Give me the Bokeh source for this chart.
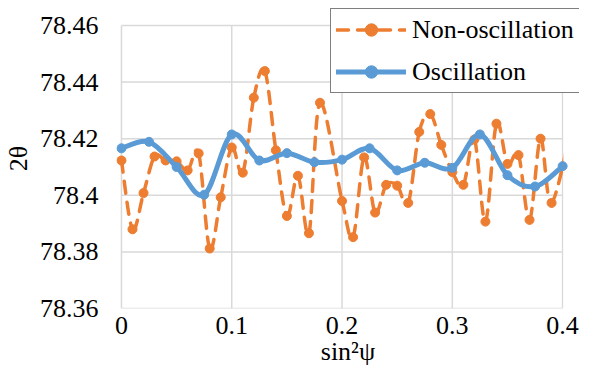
import numpy as np
from bokeh.plotting import figure
from bokeh.models import Range1d, FixedTicker, Legend, LegendItem
from bokeh.embed import file_html
from bokeh.resources import INLINE

# ---- data ----
non_x = [0.00, 0.01, 0.02, 0.03, 0.04, 0.05, 0.06, 0.07, 0.08, 0.09,
         0.10, 0.11, 0.12, 0.13, 0.14, 0.15, 0.16, 0.17, 0.18,
         0.20, 0.21, 0.22, 0.23, 0.24, 0.25, 0.26, 0.27, 0.28, 0.29,
         0.30, 0.31, 0.32, 0.33, 0.34, 0.35, 0.36, 0.37, 0.38, 0.39, 0.41]
non_y = [78.4123, 78.3880, 78.4008, 78.4137, 78.4123, 78.4120, 78.4088, 78.4148, 78.3812, 78.3993,
         78.4169, 78.4080, 78.4345, 78.4439, 78.4159, 78.3927, 78.4069, 78.3866, 78.4327,
         78.3980, 78.3852, 78.4134, 78.3939, 78.4037, 78.4034, 78.3973, 78.4224, 78.4287, 78.4178,
         78.4082, 78.4037, 78.4197, 78.3907, 78.4253, 78.4111, 78.4142, 78.3913, 78.4200, 78.3973, 78.4280]

osc_x = [0.0, 0.025, 0.05, 0.075, 0.1, 0.125, 0.15, 0.175, 0.2,
         0.225, 0.25, 0.275, 0.3, 0.325, 0.35, 0.375, 0.4]
osc_y = [78.4166, 78.4189, 78.4100, 78.4002, 78.4215, 78.4123, 78.4149, 78.4117, 78.4126,
         78.4166, 78.4088, 78.4115, 78.4097, 78.4215, 78.4071, 78.4031, 78.4103]

x_ticks = [0, 0.1, 0.2, 0.3, 0.4]
x_tick_labels = ["0", "0.1", "0.2", "0.3", "0.4"]
y_ticks = [78.36, 78.38, 78.4, 78.42, 78.44, 78.46]
y_tick_labels = ["78.36", "78.38", "78.4", "78.42", "78.44", "78.46"]

ORANGE = "#ED7D31"
BLUE = "#5B9BD5"
GRID = "#d9d9d9"
FONT = "Liberation Serif"

# ---- layout (pixels) ----
W, H = 580, 369
BL, BR, BT, BB = 113, 1, 8, 61          # borders around the frame
PAD_L, PAD_R, PAD_T = 5, 17, 17         # frame space outside the data box
frame_w = W - BL - BR
frame_h = H - BT - BB
x_lo, x_hi = x_ticks[0], x_ticks[-1]
y_lo, y_hi = y_ticks[0], y_ticks[-1]
xs_per_px = (x_hi - x_lo) / (frame_w - PAD_L - PAD_R)
ys_per_px = (y_hi - y_lo) / (frame_h - PAD_T)
x_range = Range1d(x_lo - PAD_L * xs_per_px, x_hi + PAD_R * xs_per_px)
y_range = Range1d(y_lo, y_hi + PAD_T * ys_per_px)


def smooth(xs, ys):
    """Catmull-Rom style Bezier control points (like Excel's smoothed line)."""
    xs = np.asarray(xs, float)
    ys = np.asarray(ys, float)
    n = len(xs)
    xp = np.concatenate([[xs[0]], xs, [xs[-1]]])
    yp = np.concatenate([[ys[0]], ys, [ys[-1]]])
    cx0 = xs[:-1] + (xp[2:n + 1] - xp[0:n - 1]) / 6.0
    cy0 = ys[:-1] + (yp[2:n + 1] - yp[0:n - 1]) / 6.0
    cx1 = xs[1:] - (xp[3:n + 2] - xp[1:n]) / 6.0
    cy1 = ys[1:] - (yp[3:n + 2] - yp[1:n]) / 6.0
    return dict(x0=xs[:-1], y0=ys[:-1], x1=xs[1:], y1=ys[1:],
                cx0=cx0, cy0=cy0, cx1=cx1, cy1=cy1)


p = figure(width=W, height=H, output_backend="svg", toolbar_location=None,
           x_range=x_range, y_range=y_range,
           min_border_left=BL, min_border_right=BR, min_border_top=BT,
           min_border_bottom=BB)
p.outline_line_color = None
p.background_fill_color = "white"
p.border_fill_color = "white"
p.grid.visible = False

for ax in (p.xaxis, p.yaxis):
    ax.axis_line_color = None
    ax.major_tick_line_color = None
    ax.minor_tick_line_color = None
    ax.major_tick_out = 0
    ax.major_tick_in = 0
    ax.minor_tick_out = 0
    ax.minor_tick_in = 0
    ax.major_label_text_font = FONT
    ax.major_label_text_font_size = "26px"
    ax.major_label_text_color = "black"
    ax.axis_label_text_font = FONT
    ax.axis_label_text_font_size = "26px"
    ax.axis_label_text_font_style = "normal"
    ax.axis_label_text_color = "black"

p.xaxis.ticker = FixedTicker(ticks=x_ticks)
p.xaxis.major_label_overrides = dict(zip(x_ticks, x_tick_labels))
p.yaxis.ticker = FixedTicker(ticks=y_ticks)
p.yaxis.major_label_overrides = dict(zip(y_ticks, y_tick_labels))
p.xaxis.axis_label = "sin²ψ"
p.yaxis.axis_label = "2θ"
p.xaxis.major_label_standoff = 8
p.xaxis.axis_label_standoff = 0
p.yaxis.major_label_standoff = 18
p.yaxis.axis_label_standoff = 4

# gridlines limited to the data box
p.segment(x0=[x_lo] * len(y_ticks), x1=[x_hi] * len(y_ticks), y0=y_ticks, y1=y_ticks,
          line_color=GRID, line_width=1.5)
p.segment(x0=x_ticks, x1=x_ticks, y0=[y_lo] * len(x_ticks), y1=[y_hi] * len(x_ticks),
          line_color=GRID, line_width=1.5)

non_seg = smooth(non_x, non_y)
osc_seg = smooth(osc_x, osc_y)

r_non_line = p.bezier(source=non_seg, x0="x0", y0="y0", x1="x1", y1="y1",
                      cx0="cx0", cy0="cy0", cx1="cx1", cy1="cy1",
                      line_color=ORANGE, line_width=3.5, line_dash="12 9",
                      line_cap="round")
r_non_pts = p.scatter(non_x, non_y, size=9, fill_color=ORANGE, line_color=ORANGE)

# plot-area clipping at the right end of the axis (series continues past 0.4)
p.quad(left=[x_hi + 0.75 * xs_per_px], right=[x_range.end], bottom=[y_range.start],
       top=[y_range.end], fill_color="white", line_color=None)

r_osc_line = p.bezier(source=osc_seg, x0="x0", y0="y0", x1="x1", y1="y1",
                      cx0="cx0", cy0="cy0", cx1="cx1", cy1="cy1",
                      line_color=BLUE, line_width=5, line_cap="round")
r_osc_pts = p.scatter(osc_x, osc_y, size=9, fill_color=BLUE, line_color=BLUE)

legend = Legend(items=[
    LegendItem(label="Non-oscillation", renderers=[r_non_line, r_non_pts]),
    LegendItem(label="Oscillation", renderers=[r_osc_line, r_osc_pts]),
], location=(214, 215))
legend.border_line_color = "black"
legend.border_line_width = 1.5
legend.padding = 5
legend.spacing = 11
legend.margin = 0
legend.glyph_width = 70
legend.glyph_height = 31
legend.label_height = 31
legend.label_standoff = 6
legend.label_text_font = FONT
legend.label_text_font_size = "26px"
legend.label_text_color = "black"
legend.background_fill_color = "white"
legend.background_fill_alpha = 1.0
p.add_layout(legend)

open("out.html", "w").write(file_html(p, INLINE))
